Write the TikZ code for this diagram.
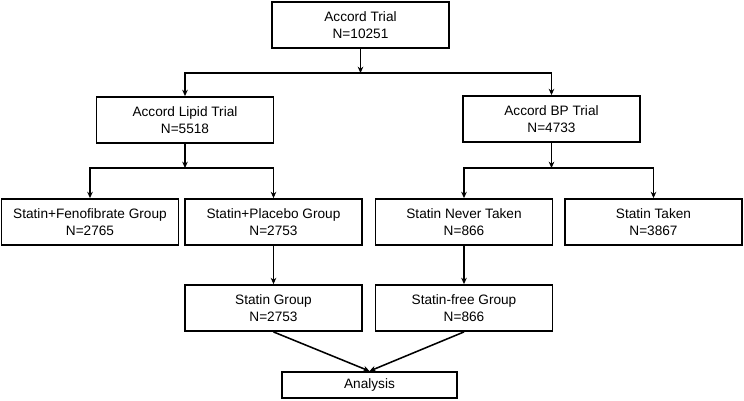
\documentclass[tikz,border=0pt]{standalone}
\usepackage{fontspec}
\setmainfont{Liberation Sans}
\usetikzlibrary{arrows.meta}
\tikzset{
  box/.style={
    rectangle, draw=black, line width=1.3pt, fill=white,
    minimum width=4.425cm, minimum height=1.15cm, align=center,
    inner sep=0pt, font=\fontsize{9.7}{12}\selectfont
  },
  arrow/.style={-{Stealth[length=4.5pt, width=4pt]}, line width=1.1pt},
  link/.style={line width=1.1pt}
}
\begin{document}
\begin{tikzpicture}[x=0.025cm, y=-0.025cm]
  \useasboundingbox (0,0) rectangle (744,401);
  % trials
  \node[box] (trial) at (360.5,25) {Accord Trial\\N=10251};
  \node[box] (lipid) at (185,120) {Accord Lipid Trial\\N=5518};
  \node[box] (bp) at (551.5,119) {Accord BP Trial\\N=4733};
  % groups
  \node[box] (fenofib) at (90,222) {Statin+Fenofibrate Group\\N=2765};
  \node[box] (placebo) at (273.5,222) {Statin+Placebo Group\\N=2753};
  \node[box] (never) at (464,222) {Statin Never Taken\\N=866};
  \node[box] (taken) at (653.5,222) {Statin Taken\\N=3867};
  \node[box] (statin) at (273.5,308) {Statin Group\\N=2753};
  \node[box] (free) at (464,308) {Statin-free Group\\N=866};
  \node[box, minimum height=0.65cm, minimum width=4.375cm] (analysis)
    at (369.5,385) {Analysis};
  % connectors
  \coordinate (split1) at (360.5,73);
  \coordinate (split2) at (185,168);
  \coordinate (split3) at (551.5,168);
  \draw[arrow] (trial) -- (split1);
  \draw[arrow] (split1) -| (lipid);
  \draw[arrow] (split1) -| (bp);
  \draw[arrow] (lipid) -- (split2);
  \draw[arrow] (split2) -| (fenofib);
  \draw[arrow] (split2) -| (placebo);
  \draw[arrow] (bp) -- (split3);
  \draw[arrow] (split3) -| (never);
  \draw[arrow] (split3) -| (taken);
  \draw[arrow] (placebo) -- (statin);
  \draw[arrow] (never) -- (free);
  \draw[arrow] (statin.south) -- (analysis.north);
  \draw[arrow] (free.south) -- (analysis.north);
\end{tikzpicture}
\end{document}
